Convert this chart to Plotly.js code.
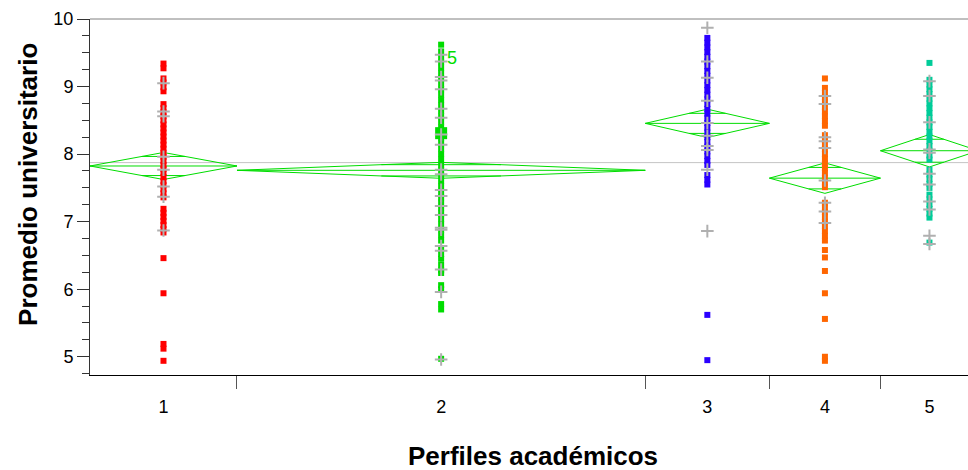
<!DOCTYPE html>
<html>
<head>
<meta charset="utf-8">
<script src="https://cdn.plot.ly/plotly-3.0.1.min.js"></script>
<style>
  html, body { margin: 0; padding: 0; background: #fff; }
  #chart { width: 968px; height: 470px; }
</style>
</head>
<body>
<div id="chart"></div>
<script>
// ---------- data ----------
const groupLabels = ['1', '2', '3', '4', '5'];
const groupN = [45, 125, 38, 34, 30];              // relative group widths (sample sizes)
const groupColors = ['#ff0000', '#00dd00', '#2a00ff', '#ff6600', '#00cc99'];

const g1Values = [9.34, 9.27, 9.12, 9.06, 8.99, 8.93, 8.74, 8.68, 8.62, 8.56, 8.50, 8.44, 8.38, 8.32, 8.26, 8.20, 8.14, 8.08, 8.02, 7.96, 7.90, 7.84, 7.78, 7.72, 7.66, 7.60, 7.54, 7.48, 7.42, 7.36, 7.19, 7.13, 7.07, 7.01, 6.95, 6.89, 6.84, 6.46, 5.94, 5.19, 5.12, 4.94];
const g2Values = [9.62, 9.52, 9.44, 9.36, 9.28, 9.20, 9.12, 9.04, 8.96, 8.88, 8.80, 8.72, 8.64, 8.56, 8.48, 8.40, 8.32, 8.24, 8.16, 8.08, 8.00, 7.92, 7.84, 7.76, 7.68, 7.60, 7.52, 7.44, 7.36, 7.28, 7.20, 7.12, 7.04, 6.96, 6.88, 6.80, 6.72, 6.60, 6.52, 6.45, 6.36, 6.28, 6.24, 6.06, 6.00, 5.78, 5.70, 4.97];
const g3Values = [9.72, 9.65, 9.58, 9.51, 9.44, 9.37, 9.30, 9.23, 9.16, 9.09, 9.02, 8.95, 8.88, 8.81, 8.74, 8.67, 8.60, 8.53, 8.46, 8.39, 8.32, 8.25, 8.18, 8.11, 8.04, 7.97, 7.90, 7.84, 7.69, 7.62, 7.55, 5.62, 4.95];
const g4Values = [9.12, 8.98, 8.91, 8.84, 8.77, 8.70, 8.63, 8.56, 8.49, 8.42, 8.28, 8.21, 8.14, 8.07, 8.00, 7.93, 7.86, 7.79, 7.72, 7.65, 7.58, 7.51, 7.28, 7.21, 7.14, 7.07, 7.00, 6.93, 6.86, 6.79, 6.72, 6.58, 6.47, 6.27, 5.94, 5.56, 5.00, 4.94];
const g5Values = [9.35, 9.10, 9.03, 8.96, 8.89, 8.82, 8.75, 8.68, 8.61, 8.54, 8.47, 8.40, 8.33, 8.26, 8.19, 8.12, 8.05, 7.98, 7.92, 7.77, 7.70, 7.63, 7.56, 7.50, 7.40, 7.33, 7.26, 7.19, 7.12, 7.06, 6.69];

const g1Cross = [9.05, 8.63, 8.56, 7.96, 7.77, 7.52, 7.37, 6.87];
const g2Cross = [9.47, 9.37, 9.14, 9.09, 8.96, 8.67, 8.54, 8.29, 8.14, 7.77, 7.70, 7.47, 7.38, 7.23, 7.10, 6.91, 6.88, 6.64, 6.57, 6.29, 5.96, 4.96];
const g3Cross = [9.87, 9.37, 9.13, 8.79, 8.46, 8.27, 8.12, 8.06, 7.77, 6.86];
const g4Cross = [8.86, 8.74, 8.25, 8.19, 8.09, 7.61, 7.28, 7.15, 6.98];
const g5Cross = [9.08, 8.86, 8.47, 8.07, 8.02, 7.71, 7.55, 7.30, 7.18, 6.79, 6.67];

const groupMeans = [7.824, 7.760, 8.455, 7.644, 8.050];
const groupCIHalf = [0.200, 0.118, 0.210, 0.225, 0.240];
const grandMean = 7.874;

const highlightValue = 8.31;      // enlarged marker in group 2
const labelValue = 9.42;          // "5" label in group 2
const labelText = '5';

// ---------- build ----------
const groupValues = [g1Values, g2Values, g3Values, g4Values, g5Values];
const groupCross = [g1Cross, g2Cross, g3Cross, g4Cross, g5Cross];

const starts = [], ends = [], centers = [];
let acc = 0;
groupN.forEach(n => { starts.push(acc); acc += n; ends.push(acc); centers.push(acc - n / 2); });
const total = acc;
const xMax = 268.8;

const traces = [];

// grand mean line
traces.push({
  type: 'scatter', mode: 'lines', x: [0, total], y: [grandMean, grandMean],
  line: { color: '#c4c4c4', width: 1 }, hoverinfo: 'skip', showlegend: false
});

// means diamonds
const k = 1 / Math.SQRT2;
groupMeans.forEach((m, i) => {
  const h = groupCIHalf[i], l = starts[i], r = ends[i], c = centers[i];
  const ow = (r - l) / 2 * (1 - k);
  traces.push({
    type: 'scatter', mode: 'lines',
    x: [l, c, r, c, l, null, l, r, null, c - ow, c + ow, null, c - ow, c + ow],
    y: [m, m + h, m, m - h, m, null, m, m, null, m + h * k, m + h * k, null, m - h * k, m - h * k],
    line: { color: '#00dd00', width: 1 }, hoverinfo: 'skip', showlegend: false
  });
});

// points
groupValues.forEach((vals, i) => {
  traces.push({
    type: 'scatter', mode: 'markers',
    x: vals.map(() => centers[i]), y: vals,
    marker: { symbol: 'square', size: 6, color: groupColors[i], line: { width: 0 } },
    showlegend: false, name: groupLabels[i]
  });
});

// highlighted marker in group 2
traces.push({
  type: 'scatter', mode: 'markers', x: [centers[1]], y: [highlightValue],
  marker: { symbol: 'square', size: 12, color: groupColors[1], line: { width: 0 } },
  showlegend: false
});

// gray crosses
groupCross.forEach((vals, i) => {
  traces.push({
    type: 'scatter', mode: 'markers',
    x: vals.map(() => centers[i]), y: vals,
    marker: { symbol: 'cross-thin', size: 9, color: '#b0b0b0', line: { color: '#b0b0b0', width: 2 } },
    showlegend: false
  });
});

const font = 'Liberation Sans, Arial, sans-serif';

const layout = {
  width: 968, height: 470,
  margin: { l: 90, r: 0, t: 19, b: 95 },
  paper_bgcolor: '#ffffff', plot_bgcolor: '#ffffff',
  showlegend: false,
  font: { family: font, size: 18, color: '#000' },
  xaxis: {
    range: [0, xMax], showgrid: false, zeroline: false,
    tickmode: 'array', tickvals: centers, ticktext: groupLabels,
    ticks: '', ticklabelstandoff: 15,
    tickfont: { family: font, size: 18, color: '#000' },
    showline: true, linecolor: '#000', linewidth: 1,
    minor: { tickmode: 'array', tickvals: ends.slice(0, 4), ticks: 'outside', ticklen: 13, tickwidth: 1, tickcolor: '#555' }
  },
  yaxis: {
    range: [4.73, 10.0], showgrid: false, zeroline: false,
    tickmode: 'linear', tick0: 5, dtick: 1,
    ticks: 'outside', ticklen: 12, tickwidth: 1, tickcolor: '#333',
    tickfont: { family: font, size: 18, color: '#000' },
    showline: true, linecolor: '#333', linewidth: 1,
    minor: { dtick: 0.25, tick0: 5, ticks: 'outside', ticklen: 7, tickwidth: 1, tickcolor: '#333' }
  },
  shapes: [
    { type: 'line', xref: 'paper', yref: 'paper', x0: 0, x1: 1, y0: 1, y1: 1, line: { color: '#808080', width: 1 } }
  ],
  annotations: [
    { text: '<b>Promedio universitario</b>', xref: 'paper', yref: 'paper', x: -0.0706, y: 0.534,
      xanchor: 'center', yanchor: 'middle', textangle: -90, showarrow: false,
      font: { family: font, size: 26, color: '#000' } },
    { text: '<b>Perfiles académicos</b>', xref: 'paper', yref: 'paper', x: 0.5046, y: -0.2275,
      xanchor: 'center', yanchor: 'middle', showarrow: false,
      font: { family: font, size: 26, color: '#000' } },
    { text: labelText, xref: 'x', yref: 'y', x: centers[1], y: labelValue, xshift: 11,
      xanchor: 'center', yanchor: 'middle', showarrow: false,
      font: { family: font, size: 18, color: '#00dd00' } }
  ]
};

Plotly.newPlot('chart', traces, layout, { staticPlot: true, displayModeBar: false });
</script>
</body>
</html>
